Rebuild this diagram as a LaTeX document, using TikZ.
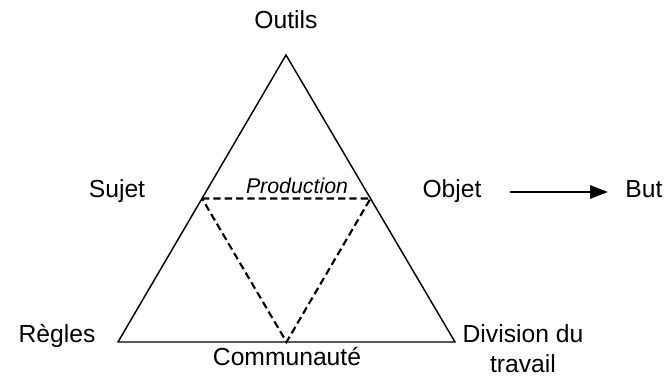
\documentclass[tikz,border=0pt]{standalone}
\usepackage{fontspec}
\setmainfont{Liberation Sans}
\usetikzlibrary{arrows.meta,calc}

\begin{document}
\begin{tikzpicture}[
  x=0.75pt, y=-0.75pt,
  every node/.append style={font=\fontsize{18.5}{22}\selectfont, inner sep=0pt},
  side/.style={line width=1.1pt},
  inner/.style={line width=1.6pt, dash pattern=on 5.5pt off 3pt},
  goal/.style={line width=1.5pt, -{Triangle[length=13.5pt, width=10pt]}},
]
\useasboundingbox (0,0) rectangle (668,378);

% ---------- corners of the triangle ----------
\coordinate (top) at (286,55);
\coordinate (left) at (118,342);
\coordinate (right) at (455,342);
\coordinate (midS) at ($(top)!0.5!(left)$);
\coordinate (midO) at ($(top)!0.5!(right)$);
\coordinate (midC) at ($(left)!0.5!(right)$);

% ---------- triangles ----------
\draw[side, line join=miter] (top) -- (left) -- (right) -- cycle;
\draw[inner] (midS) -- (midO) -- (midC) -- cycle;

% ---------- labels ----------
\node[anchor=base] (outils) at (286,29) {Outils};
\node[anchor=base] (sujet) at (117,197) {Sujet};
\node[anchor=base, font=\fontsize{16}{19}\selectfont\itshape] (production) at (297,193) {Production};
\node[anchor=base] (objet) at (452,197) {Objet};
\node[anchor=base] (but) at (644,197) {But};
\node[anchor=base] (regles) at (57,342) {Règles};
\node[anchor=base] (communaute) at (287,365) {Communauté};
\node[anchor=base, align=center] (division) at (523,372) {Division du\\[0.5pt]travail};

% ---------- object to goal ----------
\coordinate (arrS) at (510,192);
\coordinate (arrE) at (608,192);
\draw[goal] (arrS) -- (arrE);

\end{tikzpicture}
\end{document}
